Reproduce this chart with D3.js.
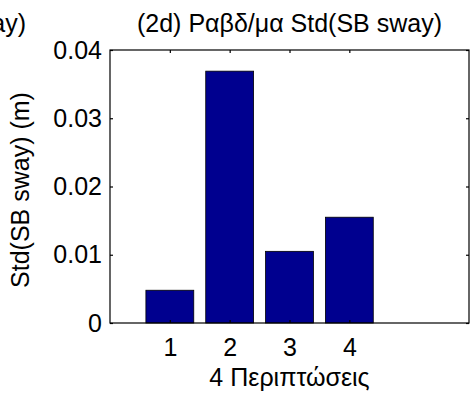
<!DOCTYPE html>
<html>
<head>
<meta charset="utf-8">
<script src="https://cdn.jsdelivr.net/npm/d3@7"></script>
<style>
  body { margin: 0; background: #fff; }
  text { font-family: "Liberation Sans", Arial, sans-serif; fill: #000; }
</style>
</head>
<body>
<svg id="chart" width="472" height="396"></svg>
<script>
// data
const cases = [1, 2, 3, 4];
const stdSway = [0.0048, 0.0369, 0.0105, 0.0155];
const yTicks = [0, 0.01, 0.02, 0.03, 0.04];
const xTicks = [1, 2, 3, 4];

const svg = d3.select("#chart");
const width = 472, height = 396;
const margin = { top: 50, right: 3, bottom: 73, left: 110 };

const x = d3.scaleLinear().domain([0, 6]).range([margin.left, width - margin.right]);
const y = d3.scaleLinear().domain([0, 0.04]).range([height - margin.bottom, margin.top]);

const barW = x(0.8) - x(0);

// bars
svg.append("g")
  .selectAll("rect")
  .data(cases)
  .join("rect")
  .attr("x", (d) => x(d) - barW / 2)
  .attr("y", (d, i) => y(stdSway[i]))
  .attr("width", barW)
  .attr("height", (d, i) => y(0) - y(stdSway[i]))
  .attr("fill", "#00008f")
  .attr("stroke", "#000")
  .attr("stroke-width", 0.8);

// axes, ticks pointing inward like matlab
const fmt = (d) => (d === 0 ? "0" : d3.format(".2f")(d));
const fs = "25px";

svg.append("g")
  .attr("transform", `translate(0,${y(0)})`)
  .call(d3.axisBottom(x).tickValues(xTicks).tickSize(-3).tickPadding(15).tickFormat(d3.format("d")))
  .call((g) => g.select(".domain").remove())
  .call((g) => g.selectAll("text").style("font-size", fs).attr("font-family", null));

svg.append("g")
  .attr("transform", `translate(0,${y(0.04)})`)
  .call(d3.axisTop(x).tickValues(xTicks).tickSize(-3).tickFormat(""))
  .call((g) => g.select(".domain").remove());

svg.append("g")
  .attr("transform", `translate(${x(0)},0)`)
  .call(d3.axisLeft(y).tickValues(yTicks).tickSize(-3).tickPadding(8).tickFormat(fmt))
  .call((g) => g.select(".domain").remove())
  .call((g) => g.selectAll("text").style("font-size", fs).attr("font-family", null));

svg.append("g")
  .attr("transform", `translate(${x(6)},0)`)
  .call(d3.axisRight(y).tickValues(yTicks).tickSize(-3).tickFormat(""))
  .call((g) => g.select(".domain").remove());

// box
svg.append("rect")
  .attr("x", x(0)).attr("y", y(0.04))
  .attr("width", x(6) - x(0)).attr("height", y(0) - y(0.04))
  .attr("fill", "none").attr("stroke", "#000").attr("stroke-width", 1.2);

svg.selectAll(".tick line").attr("stroke", "#000").attr("stroke-width", 1.2);

// labels
svg.append("text")
  .attr("x", (x(0) + x(6)) / 2).attr("y", 32)
  .attr("text-anchor", "middle").style("font-size", fs)
  .text("(2d) Ραβδ/μα Std(SB sway)");

svg.append("text")
  .attr("x", 26).attr("y", 32)
  .attr("text-anchor", "end").style("font-size", fs)
  .text("sway)");

svg.append("text")
  .attr("x", (x(0) + x(6)) / 2).attr("y", 386)
  .attr("text-anchor", "middle").style("font-size", fs)
  .text("4 Περιπτώσεις");

svg.append("text")
  .attr("transform", `translate(29,190) rotate(-90)`)
  .attr("text-anchor", "middle").style("font-size", fs)
  .text("Std(SB sway) (m)");
</script>
</body>
</html>
